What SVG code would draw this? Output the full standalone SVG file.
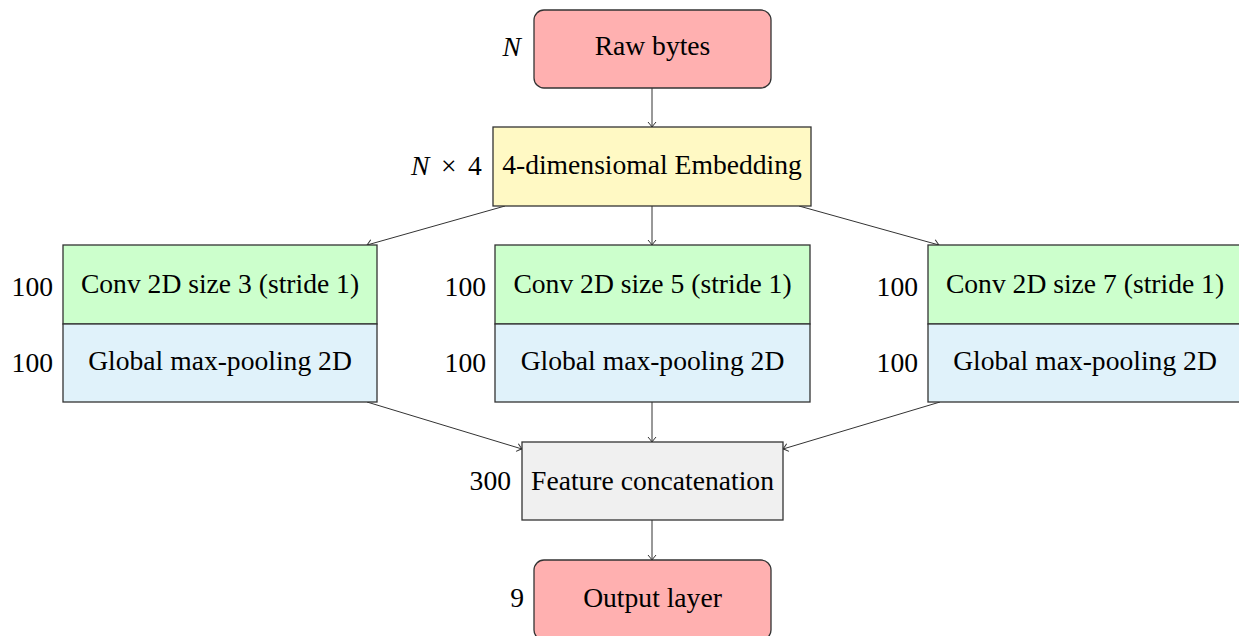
<svg xmlns="http://www.w3.org/2000/svg" width="1239" height="636" viewBox="0 0 1239 636">
<style>
text{font-family:"Liberation Serif","Times New Roman",serif;font-size:27.6px;fill:#000}
.c{text-anchor:middle}
.r{text-anchor:end}
.box{stroke:#333;stroke-width:1.3}
.raw{fill:#FFB0B0}
.emb{fill:#FFF9C4}
.conv{fill:#CCFFCC}
.pool{fill:#E0F2FA}
.cat{fill:#F0F0F0}
.edge{stroke:#333;stroke-width:1;fill:none;marker-end:url(#ah)}
</style>
<defs>
<marker id="ah" viewBox="-6 -5 7 10" refX="0" refY="0" markerWidth="7" markerHeight="10" markerUnits="userSpaceOnUse" orient="auto">
<path d="M-5,-4 Q-1.5,-1 0,0 Q-1.5,1 -5,4" fill="none" stroke="#333" stroke-width="1"/>
</marker>
</defs>
<g id="connectors">
<line class="edge" x1="652" y1="88" x2="652" y2="127"/>
<line class="edge" x1="505" y1="206" x2="367" y2="245"/>
<line class="edge" x1="652" y1="206" x2="652" y2="245"/>
<line class="edge" x1="799" y1="206" x2="939" y2="245"/>
<line class="edge" x1="367" y1="402" x2="522" y2="449"/>
<line class="edge" x1="652" y1="402" x2="652" y2="442"/>
<line class="edge" x1="940" y1="402" x2="783" y2="449"/>
<line class="edge" x1="652" y1="520" x2="652" y2="560"/>
</g>
<g id="raw">
<rect class="box raw" x="534" y="10" width="237" height="78" rx="10"/>
<text class="c" x="652.5" y="55">Raw bytes</text>
<text class="r" x="521" y="56" font-style="italic">N</text>
</g>
<g id="embedding">
<rect class="box emb" x="493" y="127" width="318" height="79"/>
<text class="c" x="652" y="174">4-dimensiomal Embedding</text>
<text x="411" y="175"><tspan font-style="italic">N</tspan><tspan x="441">×</tspan><tspan x="468">4</tspan></text>
</g>
<g id="conv3">
<rect class="box conv" x="63" y="245" width="314" height="79"/>
<text class="c" x="220" y="293">Conv 2D size 3 (stride 1)</text>
<text class="r" x="53" y="296">100</text>
</g>
<g id="pool3">
<rect class="box pool" x="63" y="324" width="314" height="78"/>
<text class="c" x="220" y="370">Global max-pooling 2D</text>
<text class="r" x="53" y="372">100</text>
</g>
<g id="conv5">
<rect class="box conv" x="495" y="245" width="315" height="79"/>
<text class="c" x="652.5" y="293">Conv 2D size 5 (stride 1)</text>
<text class="r" x="486" y="296">100</text>
</g>
<g id="pool5">
<rect class="box pool" x="495" y="324" width="315" height="78"/>
<text class="c" x="652.5" y="370">Global max-pooling 2D</text>
<text class="r" x="486" y="372">100</text>
</g>
<g id="conv7">
<rect class="box conv" x="928" y="245" width="314" height="79"/>
<text class="c" x="1085" y="293">Conv 2D size 7 (stride 1)</text>
<text class="r" x="918" y="296">100</text>
</g>
<g id="pool7">
<rect class="box pool" x="928" y="324" width="314" height="78"/>
<text class="c" x="1085" y="370">Global max-pooling 2D</text>
<text class="r" x="918" y="372">100</text>
</g>
<g id="concat">
<rect class="box cat" x="522" y="442" width="261" height="78"/>
<text class="c" x="652.5" y="490">Feature concatenation</text>
<text class="r" x="511" y="490">300</text>
</g>
<g id="output">
<rect class="box raw" x="534" y="560" width="237" height="80" rx="10"/>
<text class="c" x="652.5" y="607">Output layer</text>
<text class="r" x="524" y="607">9</text>
</g>
</svg>
